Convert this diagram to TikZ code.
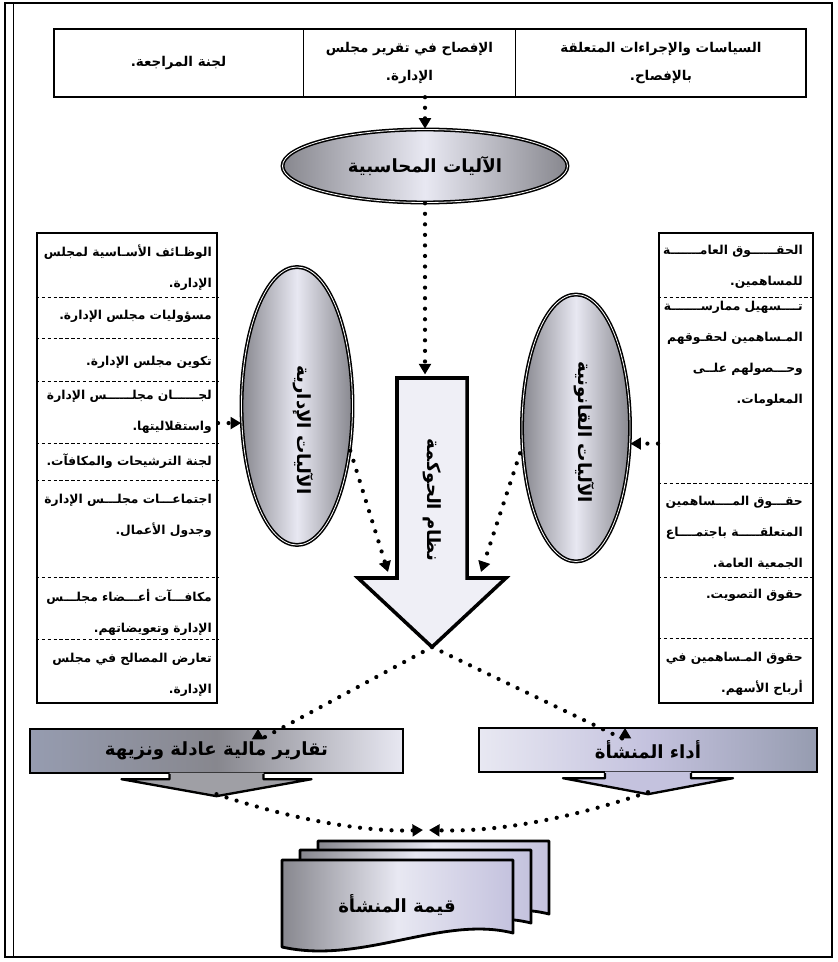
\documentclass[tikz,border=0pt]{standalone}
\usepackage{fontspec}
\usetikzlibrary{arrows.meta,positioning,calc,shapes.geometric}
\newfontfamily\arabicfont[Script=Arabic]{DejaVu Sans}
\TeXXeTstate=1
\newcommand\arline[1]{\beginR#1\endR}
\newlength\pu
\setlength\pu{0.03cm}
\definecolor{ash}{RGB}{135,135,142}
\definecolor{pale}{RGB}{232,232,242}
\definecolor{lilac}{RGB}{196,194,222}
\definecolor{steel}{RGB}{150,156,176}

\begin{document}
\begin{tikzpicture}[x=0.03cm, y=-0.03cm,
  tcell/.style={minimum height=68\pu, inner sep=0pt, align=center, font=\arabicfont\bfseries\fontsize{11.5}{24}\selectfont},
  mech/.style={ellipse, draw, line width=1.3pt, double=white, double distance=0.7pt, left color=ash, right color=ash, middle color=pale, inner sep=0pt},
  panel/.style={draw, line width=1.8pt, inner sep=0pt},
  cutline/.style={densely dashed, line width=0.5pt},
  itemtxt/.style={anchor=north east, inner sep=0pt, align=right, font=\arabicfont\bfseries\fontsize{10.5}{26.5}\selectfont},
  banner/.style={draw, line width=2pt, minimum height=44\pu, inner sep=0pt},
  biglabel/.style={font=\arabicfont\bfseries\fontsize{15.5}{18}\selectfont},
  dotarrow/.style={line width=3.6pt, line cap=round, dash pattern=on 0pt off 9pt, -{Triangle[length=9pt,width=10pt]}}]
  \useasboundingbox (0,0) rectangle (837,962);
  % page frame
  \draw[line width=2pt] (5,3) rectangle (832,957);
  \draw[line width=0.8pt] (13,3) -- (13,957);
  % disclosure table
  \node[tcell, minimum width=249\pu] (audit) at (178.5,63) {\arline{لجنة المراجعة.}};
  \node[tcell, minimum width=212\pu, right=0pt of audit] (report) {\arline{الإفصاح في تقرير مجلس}\\\arline{الإدارة.}};
  \node[tcell, minimum width=290\pu, right=0pt of report] (policy) {\arline{السياسات والإجراءات المتعلقة}\\\arline{بالإفصاح.}};
  \draw[line width=1.8pt] (audit.north west) rectangle (policy.south east);
  \draw[line width=0.6pt] (audit.north east) -- (audit.south east) (report.north east) -- (report.south east);
  % mechanisms
  \node[mech, minimum width=285\pu, minimum height=73\pu, biglabel] (acc) at (425,166) {\arline{الآليات المحاسبية}};
  \node[mech, minimum width=111\pu, minimum height=278\pu] (adm) at (297,406) {};
  \node[biglabel, rotate=-90] (admtxt) at (303,430) {\arline{الآليات الإدارية}};
  \node[mech, minimum width=108\pu, minimum height=267\pu] (leg) at (576,428) {};
  \node[biglabel, rotate=-90] (legtxt) at (584,432) {\arline{الآليات القانونية}};
  % governance arrow
  \draw[line width=3pt, fill=pale!70!white] (397,378) -- (467,378) -- (467,578) -- (506,578) -- (432,647) -- (358,578) -- (397,578) -- cycle;
  \node[biglabel, rotate=-90] (gov) at (432,500) {\arline{نظام الحوكمة}};
  \coordinate (govtop) at (432,378);
  \coordinate (govL) at (388,572);
  \coordinate (govR) at (481,572);
  \coordinate (govtip) at (432,647);
  % board items
  \node[panel, minimum width=180\pu, minimum height=470\pu] (lbox) at (127,468) {};
  \foreach \y in {297,338,381,443,480,577,639}
    \draw[cutline] (lbox.west |- 0,\y) -- (lbox.east |- 0,\y);
  \node[itemtxt] (l1) at (212,245) {\arline{الوظـائف الأسـاسية لمجلس}\\\arline{الإدارة.}};
  \node[itemtxt] (l2) at (212,310) {\arline{مسؤوليات مجلس الإدارة.}};
  \node[itemtxt] (l3) at (212,356) {\arline{تكوين مجلس الإدارة.}};
  \node[itemtxt] (l4) at (212,390) {\arline{لجــــــان مجلــــــس الإدارة}\\\arline{واستقلاليتها.}};
  \node[itemtxt] (l5) at (212,454) {\arline{لجنة الترشيحات والمكافآت.}};
  \node[itemtxt] (l6) at (212,494) {\arline{اجتماعـــات مجلـــس الإدارة}\\\arline{وجدول الأعمال.}};
  \node[itemtxt] (l7) at (212,589) {\arline{مكافـــآت أعـــضاء مجلـــس}\\\arline{الإدارة وتعويضاتهم.}};
  \node[itemtxt] (l8) at (212,653) {\arline{تعارض المصالح في مجلس}\\\arline{الإدارة.}};
  % shareholder items
  \node[panel, minimum width=154\pu, minimum height=470\pu] (rbox) at (736,468) {};
  \foreach \y in {297,483,577,638}
    \draw[cutline] (rbox.west |- 0,\y) -- (rbox.east |- 0,\y);
  \node[itemtxt] (r1) at (803,245) {\arline{الحقــــــوق العامـــــــة}\\\arline{للمساهمين.}};
  \node[itemtxt] (r2) at (803,301) {\arline{تــــسهيل ممارســـــــة}\\\arline{المـساهمين لحقـوقهم}\\\arline{وحـــصولهم علــى}\\\arline{المعلومات.}};
  \node[itemtxt] (r3) at (803,496) {\arline{حقـــوق المــــساهمين}\\\arline{المتعلقـــــة باجتمــــاع}\\\arline{الجمعية العامة.}};
  \node[itemtxt] (r4) at (803,589) {\arline{حقوق التصويت.}};
  \node[itemtxt] (r5) at (803,652) {\arline{حقوق المـساهمين في}\\\arline{أرباح الأسهم.}};
  % outcomes
  \node[banner, minimum width=373\pu, left color=steel, right color=pale, middle color=ash, biglabel] (fair) at (216.5,751) {\arline{تقارير مالية عادلة ونزيهة}};
  \node[banner, minimum width=338\pu, left color=pale, right color=steel, middle color=lilac, biglabel] (perf) at (648,750) {\arline{أداء المنشأة}};
  \begin{scope}[shift={(fair.south)}]
    \path[fill=ash!80] (-47,-1.5) -- (-47,5) -- (-95,5) -- (0,22) -- (95,5) -- (47,5) -- (47,-1.5) -- cycle;
    \draw[line width=2pt, line join=round] (-47,0) -- (-47,5) -- (-95,5) -- (0,22) -- (95,5) -- (47,5) -- (47,0);
    \coordinate (fairtip) at (0,20);
  \end{scope}
  \begin{scope}[shift={(perf.south)}]
    \path[fill=lilac] (-43,-1.5) -- (-43,5) -- (-85,5) -- (0,21) -- (85,5) -- (43,5) -- (43,-1.5) -- cycle;
    \draw[line width=2pt, line join=round] (-43,0) -- (-43,5) -- (-85,5) -- (0,21) -- (85,5) -- (43,5) -- (43,0);
    \coordinate (perftip) at (0,19);
  \end{scope}
  % firm value
  \foreach \dx/\dy in {36/-19, 18/-10, 0/0}
    \draw[line width=2.4pt, line join=round, left color=ash, right color=lilac, middle color=pale, shift={(282+\dx,860+\dy)}]
      (0,0) -- (231,0) -- (231,73) .. controls (160,55) and (80,105) .. (0,87) -- cycle;
  \node[biglabel] (qv) at (397,905) {\arline{قيمة المنشأة}};
  % connectors
  \draw[dotarrow] (acc.north |- audit.south) -- (acc.north);
  \draw[dotarrow, shorten >=3pt] (acc.south) -- (acc.south |- govtop);
  \draw[dotarrow] (lbox.east |- adm.197) -- (adm.197);
  \draw[dotarrow] (rbox.west |- leg.-16) -- (leg.-16);
  \draw[dotarrow] (adm.-40) -- (govL);
  \draw[dotarrow, shorten <=5pt] (leg.200) -- (govR);
  \draw[dotarrow] (govtip) -- ($(fair.north)+(41.5,13)$) -- ($(fair.north)+(41.5,1)$);
  \draw[dotarrow] (govtip) -- ($(perf.north)+(-23,13)$) -- ($(perf.north)+(-23,1)$);
  \draw[dotarrow] (fairtip) .. controls (300,822) and (370,832) .. ($(qv)+(26,-75)$);
  \draw[dotarrow] (perftip) .. controls (560,822) and (490,832) .. ($(qv)+(32,-75)$);
\end{tikzpicture}
\end{document}
